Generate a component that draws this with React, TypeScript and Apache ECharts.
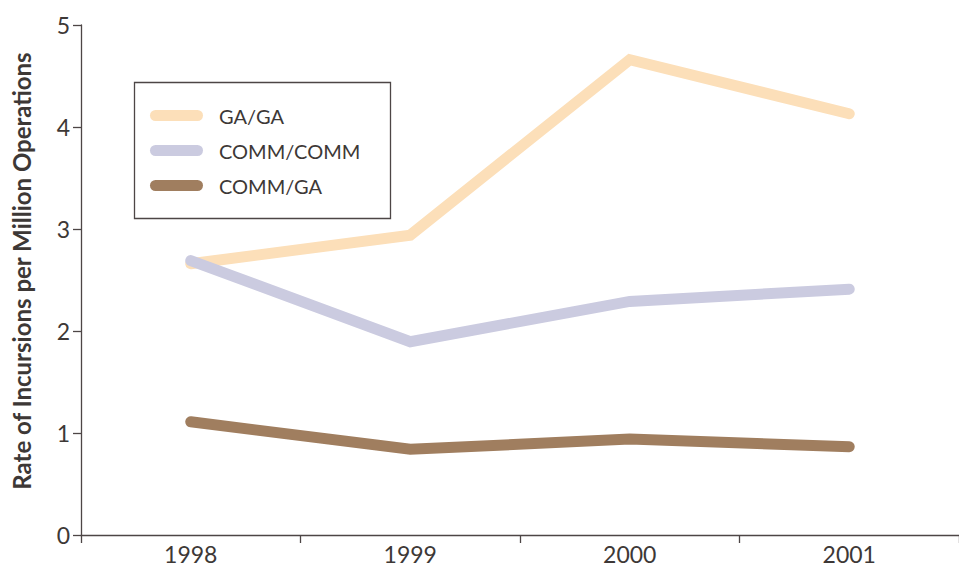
import React, { useEffect, useRef } from "react";
import * as echarts from "echarts";

const years = ["1998", "1999", "2000", "2001"];
const gaGa = [2.66, 2.94, 4.66, 4.13];
const commComm = [2.69, 1.895, 2.29, 2.41];
const commGa = [1.11, 0.84, 0.94, 0.866];
const yTicks = { min: 0, max: 5, interval: 1 };

const FONT = "Lato";
const TEXT = "#3d3836";
const AXIS = "#4d4646";
const ICON = "path://M5.5,0 L47.5,0 A5.5,5.5 0 0 1 47.5,11 L5.5,11 A5.5,5.5 0 0 1 5.5,0 Z";

export default function App() {
  const ref = useRef<HTMLDivElement>(null);
  useEffect(() => {
    if (!ref.current) return;
    const chart = echarts.init(ref.current, null, { renderer: "svg" });
    const mkSeries = (name: string, data: number[], color: string) => ({
      name,
      type: "line",
      data,
      showSymbol: false,
      symbol: "none",
      lineStyle: { color, width: 11, cap: "round", join: "miter" },
      itemStyle: { color },
      emphasis: { disabled: true },
    });
    chart.setOption({
      animation: false,
      textStyle: { fontFamily: FONT },
      grid: { left: 81, right: -8, top: 25, bottom: 35 },
      xAxis: {
        type: "category",
        data: years,
        boundaryGap: true,
        axisLine: { lineStyle: { color: AXIS, width: 1.3 } },
        axisTick: { show: true, length: 8, lineStyle: { color: AXIS, width: 1.3 } },
        axisLabel: { color: TEXT, fontSize: 23, margin: 7, fontFamily: FONT },
        splitLine: { show: false },
      },
      yAxis: {
        type: "value",
        min: yTicks.min,
        max: yTicks.max,
        interval: yTicks.interval,
        name: "Rate of Incursions per Million Operations",
        nameLocation: "middle",
        nameGap: 48,
        nameTextStyle: {
          color: TEXT,
          fontSize: 24,
          fontWeight: "bold",
          fontFamily: FONT,
          padding: [0, 0, 0, 18],
        },
        axisLine: { show: true, lineStyle: { color: AXIS, width: 1.3 } },
        axisTick: { show: true, length: 8, lineStyle: { color: AXIS, width: 1.3 } },
        axisLabel: { color: TEXT, fontSize: 23, margin: 11, fontFamily: FONT },
        splitLine: { show: false },
      },
      legend: {
        orient: "vertical",
        left: 150,
        top: 105,
        padding: 0,
        itemWidth: 53,
        itemHeight: 11,
        itemGap: 14,
        icon: ICON,
        selectedMode: false,
        textStyle: { color: TEXT, fontSize: 20, fontFamily: FONT, padding: [0, 0, 0, 11], lineHeight: 21 },
        data: ["GA/GA", "COMM/COMM", "COMM/GA"],
      },
      graphic: [
        {
          type: "rect",
          shape: { x: 134.5, y: 82.5, width: 256, height: 136 },
          style: { fill: "none", stroke: AXIS, lineWidth: 1.3 },
          z: 0,
        },
      ],
      series: [
        mkSeries("GA/GA", gaGa, "#fcdfb9"),
        mkSeries("COMM/COMM", commComm, "#cbcbe0"),
        mkSeries("COMM/GA", commGa, "#a07e5f"),
      ],
    });
    return () => chart.dispose();
  }, []);
  return (
    <div
      ref={ref}
      style={{ position: "fixed", left: 0, top: 0, width: 959, height: 570, background: "#fff" }}
    />
  );
}
